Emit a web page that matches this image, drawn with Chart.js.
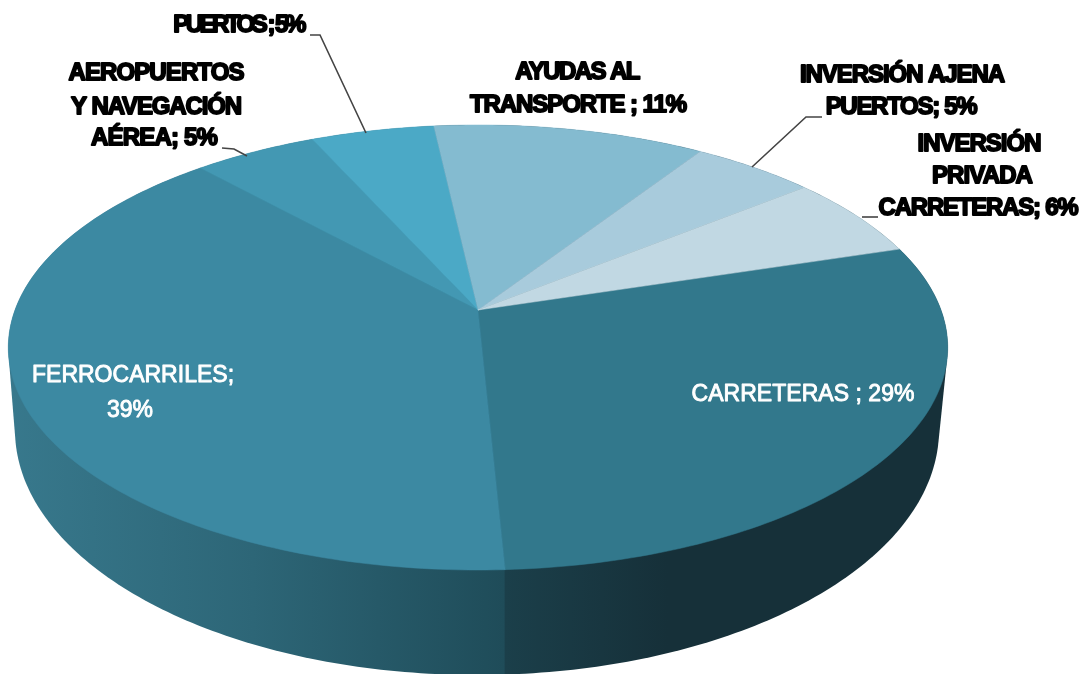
<!DOCTYPE html>
<html><head><meta charset="utf-8">
<style>html,body{margin:0;padding:0;background:#fff}canvas{display:block}</style>
<script src="https://cdn.jsdelivr.net/npm/chart.js@4"></script></head>
<body><canvas id="c" width="1084" height="674"></canvas>
<script>
const categories = ["CARRETERAS","FERROCARRILES","AEROPUERTOS Y NAVEGACIÓN AÉREA","PUERTOS","AYUDAS AL TRANSPORTE","INVERSIÓN AJENA PUERTOS","INVERSIÓN PRIVADA CARRETERAS"];
const shares = [29,39,5,5,11,5,6];
const sliceColors = ["#32788c","#3c89a2","#4398b3","#4ba9c6","#84bbd0","#a8cbdc","#c1d8e3"];
// text, centre x, centre y, fitted width
const blackLabels = [
  ["PUERTOS ; 5%",238,25,133],["AEROPUERTOS",156,73,176],["Y NAVEGACIÓN",156,107,171],["AÉREA; 5%",154,138,127],
  ["AYUDAS AL",577,72,125],["TRANSPORTE ; 11%",578,105,217],["INVERSIÓN AJENA",902,75,205],["PUERTOS; 5%",901,107,152],
  ["INVERSIÓN",979,144,124],["PRIVADA",982,176,101],["CARRETERAS; 6%",978,208,200]];
const whiteLabels = [["FERROCARRILES;",133,376,202],["39%",130,411,46],["CARRETERAS ; 29%",803,395,223]];
const leaders = [[[310,35],[320,35],[366,133]],[[222,148],[234,149],[247,156]],[[822,117],[806,117],[752,167]],[[862,217],[878,217]]];

// top face: projective image of a circle, apex off the ellipse centre
const AP = {x:478,y:310,d:463,a:216.2,c:-0.1685};
const facePt = t => { const u=Math.cos(t),v=Math.sin(t),w=1+AP.c*v; return [AP.x+AP.d*u/w, AP.y+AP.a*v/w]; };
const BOT = {x:477,y:430,rx:462,ry:245};
function hull(pts){
  pts=pts.slice().sort((p,q)=>p[0]-q[0]||p[1]-q[1]);
  const cr=(o,a,b)=>(a[0]-o[0])*(b[1]-o[1])-(a[1]-o[1])*(b[0]-o[0]);
  const lo=[],up=[];
  for(const p of pts){while(lo.length>1&&cr(lo[lo.length-2],lo[lo.length-1],p)<=0)lo.pop();lo.push(p);}
  for(const p of pts.slice().reverse()){while(up.length>1&&cr(up[up.length-2],up[up.length-1],p)<=0)up.pop();up.push(p);}
  return lo.slice(0,-1).concat(up.slice(0,-1));
}
function fitText(ctx,s,x,y,w,stroke){
  ctx.letterSpacing='0px';
  const m=ctx.measureText(s).width;
  ctx.letterSpacing=((w-m)/(s.length-1)).toFixed(2)+'px';
  if(stroke)ctx.strokeText(s,x,y);
  ctx.fillText(s,x,y);
}
const pie3d = {
  id:'pie3d',
  beforeDatasetDraw(chart){
    const ctx=chart.ctx, arcs=chart.getDatasetMeta(0).data;
    // side wall
    const pts=[];
    for(let i=0;i<360;i++){const t=i*Math.PI/180;pts.push(facePt(t));pts.push([BOT.x+BOT.rx*Math.cos(t),BOT.y+BOT.ry*Math.sin(t)]);}
    const h=hull(pts);
    const seam=facePt(arcs[0].endAngle)[0]/1084;
    const g=ctx.createLinearGradient(0,0,1084,0);
    g.addColorStop(0,'#38798d');
    g.addColorStop(seam*0.5,'#2d6677');
    g.addColorStop(seam-0.001,'#1f4c59');
    g.addColorStop(seam,'#1b3f4a');
    g.addColorStop(Math.min(1,seam+0.15),'#163039');
    g.addColorStop(1,'#163039');
    ctx.save();ctx.beginPath();h.forEach((p,i)=>i?ctx.lineTo(p[0],p[1]):ctx.moveTo(p[0],p[1]));ctx.closePath();ctx.fillStyle=g;ctx.fill();
    // top face
    arcs.forEach((a,i)=>{
      ctx.beginPath();ctx.moveTo(AP.x,AP.y);
      const n=Math.ceil((a.endAngle-a.startAngle)*60);
      for(let k=0;k<=n;k++){const p=facePt(a.startAngle+(a.endAngle-a.startAngle)*k/n);ctx.lineTo(p[0],p[1]);}
      ctx.closePath();ctx.fillStyle=sliceColors[i];ctx.fill();
      ctx.strokeStyle=sliceColors[i];ctx.lineWidth=0.5;ctx.stroke();
    });
    ctx.restore();
    return false;
  },
  afterDraw(chart){
    const ctx=chart.ctx;ctx.save();
    ctx.strokeStyle='#444';ctx.lineWidth=1.6;
    leaders.forEach(l=>{ctx.beginPath();l.forEach((p,i)=>i?ctx.lineTo(p[0],p[1]):ctx.moveTo(p[0],p[1]));ctx.stroke();});
    ctx.textAlign='center';ctx.textBaseline='middle';
    ctx.filter='blur(0.4px)';
    ctx.font='bold 24px "Liberation Sans"';ctx.fillStyle='#000';ctx.strokeStyle='#000';ctx.lineWidth=1.8;ctx.lineJoin='round';
    blackLabels.forEach(([s,x,y,w])=>fitText(ctx,s,x,y,w,true));
    ctx.font='23px "Liberation Sans"';ctx.fillStyle='#fff';ctx.strokeStyle='#fff';ctx.lineWidth=.9;
    whiteLabels.forEach(([s,x,y,w])=>fitText(ctx,s,x,y,w,true));
    ctx.restore();
  }
};
new Chart(document.getElementById('c'),{
  type:'pie',
  data:{labels:categories,datasets:[{data:shares,backgroundColor:sliceColors,borderWidth:0}]},
  options:{responsive:false,animation:false,rotation:72.8,plugins:{legend:{display:false},tooltip:{enabled:false}}},
  plugins:[pie3d]
});
</script></body></html>
